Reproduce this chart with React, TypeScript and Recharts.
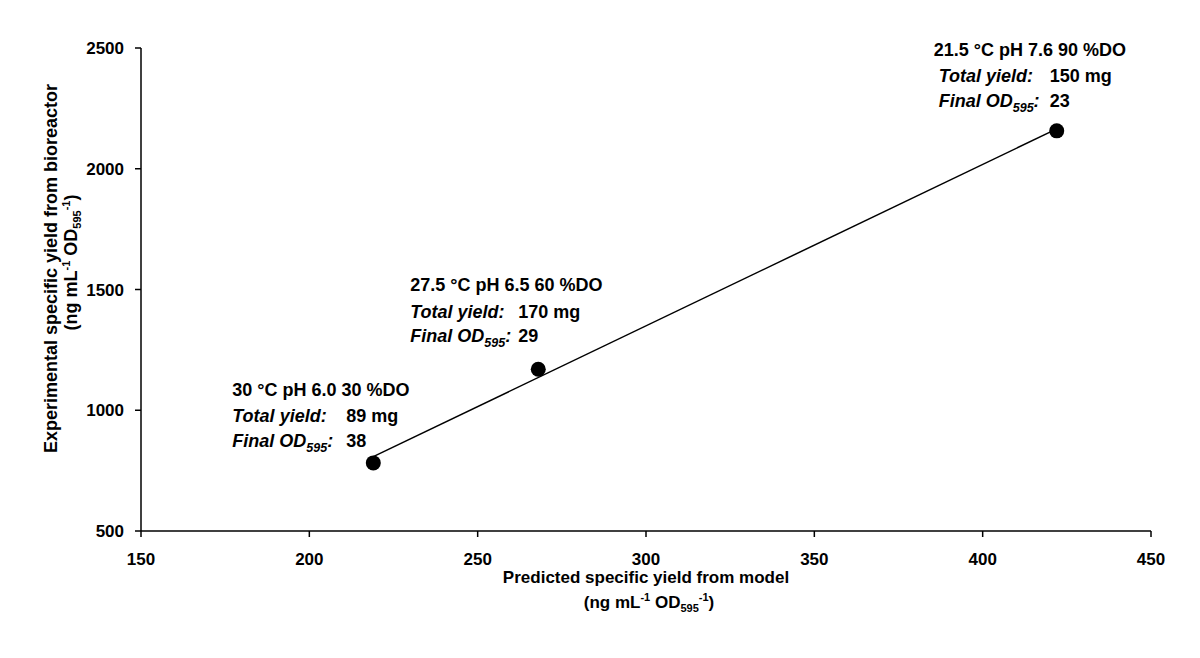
import React from 'react';
import { ScatterChart, Scatter, XAxis, YAxis } from 'recharts';

// Values
const predicted = [219, 268, 422];
const experimental = [782, 1170, 2157];
const conditions = ['30 °C pH 6.0 30 %DO', '27.5 °C pH 6.5 60 %DO', '21.5 °C pH 7.6 90 %DO'];
const totalYields = ['89 mg', '170 mg', '150 mg'];
const finalODs = ['38', '29', '23'];

// fitted trend line end points (as drawn)
const trendX = [219, 422];
const trendY = [808, 2165];

const xTicks = [150, 200, 250, 300, 350, 400, 450];
const yTicks = [500, 1000, 1500, 2000, 2500];

// where each annotation sits relative to its point (px)
const labelOffsets = [
  { x1: -141, x2: -141, xv: -27, y: [-67, -41, -16] },
  { x1: -128, x2: -128, xv: -20, y: [-78, -51, -27] },
  { x1: -123, x2: -118, xv: -7, y: [-75, -49, -24] },
];

const FONT = '"Liberation Sans", Arial, Helvetica, sans-serif';

const points = predicted.map((x, i) => ({
  x,
  y: experimental[i],
  idx: i,
}));
const trend = trendX.map((x, i) => ({ x, y: trendY[i] }));

const PointShape = (props: any) => {
  const { cx, cy, payload } = props;
  const i = payload.idx;
  const o = labelOffsets[i];
  const t = { fontFamily: FONT, fontWeight: 'bold' as const, fontSize: 18, fill: '#000' };
  return (
    <g>
      <circle cx={cx} cy={cy} r={7.5} fill="#000" />
      <text x={cx + o.x1} y={cy + o.y[0]} {...t}>{conditions[i]}</text>
      <text x={cx + o.x2} y={cy + o.y[1]} {...t} fontStyle="italic">Total yield:</text>
      <text x={cx + o.xv} y={cy + o.y[1]} {...t}>{totalYields[i]}</text>
      <text x={cx + o.x2} y={cy + o.y[2]} {...t} fontStyle="italic">
        Final OD<tspan dy={5} fontSize={12.5}>595</tspan><tspan dy={-5}>:</tspan>
      </text>
      <text x={cx + o.xv} y={cy + o.y[2]} {...t}>{finalODs[i]}</text>
    </g>
  );
};

const Units = () => (
  <>
    (ng mL<tspan dy={-7} fontSize={11}>-1</tspan>
    <tspan dy={7}> OD</tspan>
    <tspan dy={4} fontSize={11}>595</tspan>
    <tspan dy={-11} fontSize={11}>-1</tspan>
    <tspan dy={7}>)</tspan>
  </>
);

const XTitle = (props: any) => {
  const { x, y, width } = props.viewBox;
  const cx = x + width / 2;
  const t = { fontFamily: FONT, fontWeight: 'bold' as const, fontSize: 17, fill: '#000', textAnchor: 'middle' as const };
  return (
    <g>
      <text x={cx} y={y + 52} {...t}>Predicted specific yield from model</text>
      <text x={cx + 3} y={y + 77} {...t}><Units /></text>
    </g>
  );
};

const YTitle = (props: any) => {
  const { x, y, width, height } = props.viewBox;
  const left = x + width;
  const cy = y + height / 2;
  const t = { fontFamily: FONT, fontWeight: 'bold' as const, fontSize: 18, fill: '#000', textAnchor: 'middle' as const };
  const bx1 = left - 84;
  const by1 = cy - 21;
  const bx2 = left - 64;
  const by2 = cy - 27;
  return (
    <g>
      <text x={bx1} y={by1} transform={`rotate(-90, ${bx1}, ${by1})`} {...t}>
        Experimental specific yield from bioreactor
      </text>
      <text x={bx2} y={by2} transform={`rotate(-90, ${bx2}, ${by2})`} {...t}><Units /></text>
    </g>
  );
};

const tickStyle = { fill: '#000', fontSize: 17, fontWeight: 'bold', fontFamily: FONT };

export default function App() {
  return (
    <div style={{ position: 'absolute', left: 0, top: 0, width: 1200, height: 658, background: '#fff' }}>
      <ScatterChart width={1200} height={658} margin={{ top: 48, right: 49, bottom: 67, left: 61 }}>
        <XAxis
          type="number"
          dataKey="x"
          domain={[150, 450]}
          ticks={xTicks}
          interval={0}
          height={60}
          tick={tickStyle}
          tickSize={6}
          tickMargin={16}
          axisLine={{ stroke: '#000', strokeWidth: 1.5 }}
          tickLine={{ stroke: '#000', strokeWidth: 1.5 }}
          label={(p: any) => <XTitle {...p} />}
        />
        <YAxis
          type="number"
          dataKey="y"
          domain={[500, 2500]}
          ticks={yTicks}
          interval={0}
          width={80}
          tick={tickStyle}
          tickSize={6}
          tickMargin={11}
          axisLine={{ stroke: '#000', strokeWidth: 1.5 }}
          tickLine={{ stroke: '#000', strokeWidth: 1.5 }}
          label={(p: any) => <YTitle {...p} />}
        />
        <Scatter
          data={trend}
          line={{ stroke: '#000', strokeWidth: 1.5 }}
          shape={() => <g />}
          isAnimationActive={false}
        />
        <Scatter data={points} shape={PointShape} isAnimationActive={false} />
      </ScatterChart>
    </div>
  );
}
